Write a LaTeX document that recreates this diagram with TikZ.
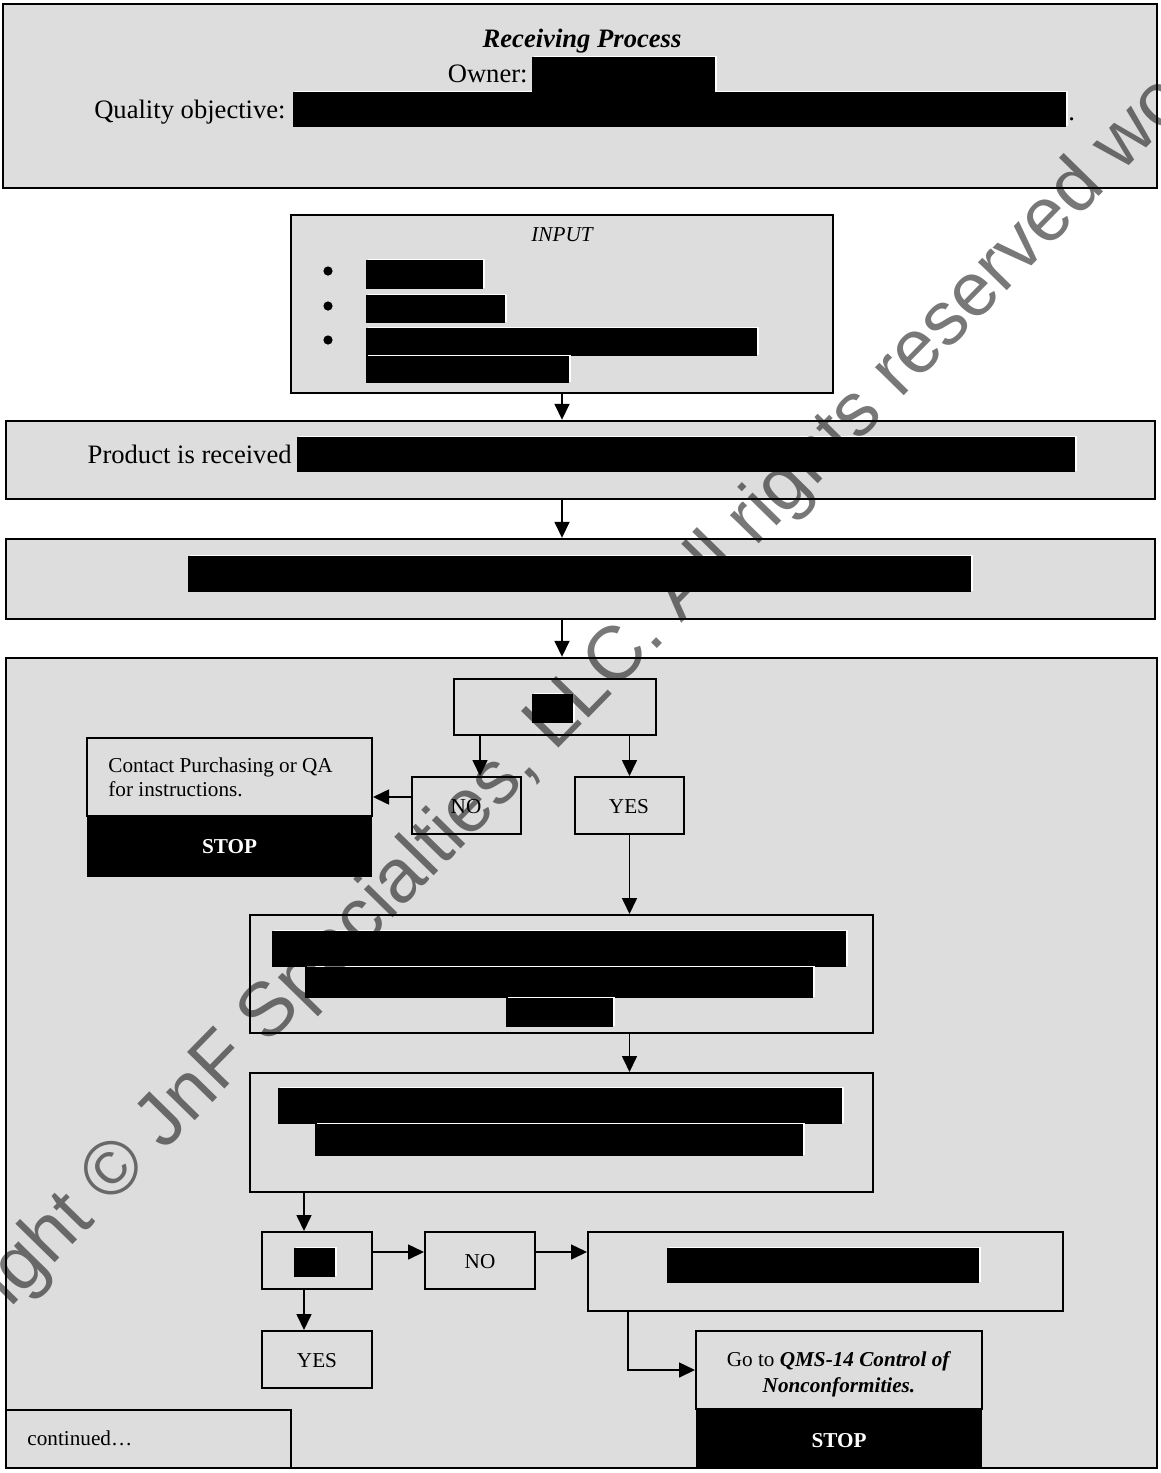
\documentclass[tikz,border=0pt]{standalone}
\usepackage{fontspec}
\setmainfont{Liberation Serif}
\newfontfamily\wmfont{Liberation Sans}
\usetikzlibrary{arrows.meta,fit,calc}
\definecolor{bg}{HTML}{DDDDDD}
\newcommand\redact[4]{%
  \fill[white] (#1+1.5,#2-1.5) rectangle (#3+1.5,#4-1.5);
  \fill[black] (#1,#2) rectangle (#3,#4);}
\begin{document}
\begin{tikzpicture}[x=0.5pt,y=-0.5pt,
  box/.style={draw=black, line width=1pt, fill=bg, inner sep=0pt},
  outer/.style={draw=black, line width=1.2pt, fill=bg, inner sep=0pt},
  blk/.style={fill=black, inner sep=0pt},
  stoptxt/.style={text=white, inner sep=0pt, anchor=base, font=\fontsize{10.6}{12}\selectfont\bfseries},
  arr/.style={line width=0.8pt, -{Triangle[length=8pt,width=7.5pt]}},
  big/.style={font=\fontsize{13.3}{15}\selectfont, inner sep=0pt},
  small/.style={font=\fontsize{10.6}{12.5}\selectfont, inner sep=0pt},
  bullet/.style={circle, fill=black, inner sep=0pt, minimum size=4.6pt},
]
\useasboundingbox (0,0) rectangle (1161,1473);
\fill[white] (0,0) rectangle (1161,1473);

% header
\node[outer, fit={(3,4) (1157,188)}] (head) {};
\node[inner sep=0pt, font=\fontsize{13.3}{15}\selectfont\bfseries\itshape, anchor=base] (title) at (582,47) {Receiving Process};
\node[big, anchor=base east] (owner) at (528,82) {Owner:};
\node[big, anchor=base east] (qobj) at (286,118) {Quality objective:};
\redact{293}{92}{1066}{127}
\redact{532}{57}{715}{92}
\node[big, anchor=base west] (qdot) at (1068,120) {.};

% input
\node[box, fit={(291,215) (833,393)}] (input) {};
\node[small, font=\fontsize{10.6}{12.5}\selectfont\itshape, anchor=base] (inputlbl) at (562,241) {INPUT};
\node[bullet] (bu1) at (328,271) {};
\node[bullet] (bu2) at (328,306) {};
\node[bullet] (bu3) at (328,340) {};
\redact{366}{260}{483}{289}
\redact{366}{295}{505}{323}
\redact{366}{328}{757}{356}
\redact{366}{356}{569}{383}

% product received
\node[outer, fit={(6,421) (1155,499)}] (prod) {};
\node[big, anchor=base east] (prodlbl) at (292,463) {Product is received};
\redact{297}{437}{1075}{472}

% second step
\node[outer, fit={(6,539) (1155,619)}] (second) {};
\redact{188}{556}{971}{592}

% main area
\node[outer, fit={(6,658) (1157,1468)}] (main) {};

\node[box, fit={(454,679) (656,735)}] (dec1) {};
\redact{532}{694}{573}{723}
\node[box, fit={(412,777) (521,834)}] (no1) {};
\node[small, anchor=base] (no1lbl) at (466,813) {NO};
\node[box, fit={(575,777) (684,834)}] (yes1) {};
\node[small, anchor=base] (yes1lbl) at (629,813) {YES};

\node[box, fit={(87,738) (372,816)}] (contact) {};
\node[small, anchor=base west] (contact1) at (108,772) {Contact Purchasing or QA};
\node[small, anchor=base west] (contact2) at (108,796) {for instructions.};
\node[blk, fit={(87,816) (372,877)}] (stop1) {};
\node[stoptxt] (stop1lbl) at (229.5,853) {STOP};

\node[box, fit={(250,915) (873,1033)}] (b3) {};
\redact{272}{931}{846}{967}
\redact{305}{967}{813}{998}
\redact{506}{998}{613}{1027}

\node[box, fit={(250,1073) (873,1192)}] (b4) {};
\redact{278}{1088}{842}{1124}
\redact{315}{1124}{803}{1156}

\node[box, fit={(262,1232) (372,1289)}] (dec2) {};
\redact{294}{1248}{335}{1277}
\node[box, fit={(425,1232) (535,1289)}] (no2) {};
\node[small, anchor=base] (no2lbl) at (480,1268) {NO};
\node[box, fit={(588,1232) (1063,1311)}] (b5) {};
\redact{667}{1248}{979}{1283}
\node[box, fit={(262,1331) (372,1388)}] (yes2) {};
\node[small, anchor=base] (yes2lbl) at (317,1367) {YES};

\node[box, fit={(696,1331) (982,1409)}] (goto) {};
\node[small, anchor=base] (goto1) at (839,1366) {Go to \textbf{\textit{QMS-14 Control of}}};
\node[small, anchor=base] (goto2) at (839,1392) {\textbf{\textit{Nonconformities.}}};
\node[blk, fit={(696,1409) (982,1468)}] (stop2) {};
\node[stoptxt] (stop2lbl) at (839,1447) {STOP};

\node[box, fit={(6,1410) (291,1468)}] (cont) {};
\node[small, anchor=base west] (contlbl) at (27,1445) {continued\ldots};

% connectors
\draw[arr] (input.south) -- (input.south |- prod.north);
\draw[arr] (input.south |- prod.south) -- (input.south |- second.north);
\draw[arr] (input.south |- second.south) -- (input.south |- main.north);

\coordinate (noin) at ([xshift=6.75pt]no1.north);
\draw[arr] (dec1.south -| noin) -- (noin);
\draw[arr] (dec1.south -| yes1.north) -- (yes1.north);
\coordinate (noout) at ([yshift=4.25pt]no1.west);
\draw[arr] (noout) -- (noout -| contact.east);
\draw[arr] (yes1.south) -- (yes1.south |- b3.north);
\draw[arr] (yes1.south |- b3.south) -- (yes1.south |- b4.north);

\coordinate (d2in) at ([xshift=-6.5pt]dec2.north);
\draw[arr] (d2in |- b4.south) -- (d2in);
\draw[arr] (dec2.south -| d2in) -- (d2in |- yes2.north);
\coordinate (d2out) at ([yshift=4.25pt]dec2.east);
\draw[arr] (d2out) -- (d2out -| no2.west);
\draw[arr] (d2out -| no2.east) -- (d2out -| b5.west);
\coordinate (b5out) at ([xshift=20.5pt]b5.south west);
\draw[arr] (b5out) |- (goto.west);

% watermark
\begin{scope}
\clip (0,0) rectangle (1161,1473);
\node[rotate=45.6, anchor=base west, inner sep=0pt, text=black, text opacity=0.53,
  font=\wmfont\fontsize{38}{40}\selectfont] (wm) at (-132,1454)
  {Copyright © JnF Specialties, LLC. All rights reserved worldwide.};
\end{scope}
\end{tikzpicture}
\end{document}
